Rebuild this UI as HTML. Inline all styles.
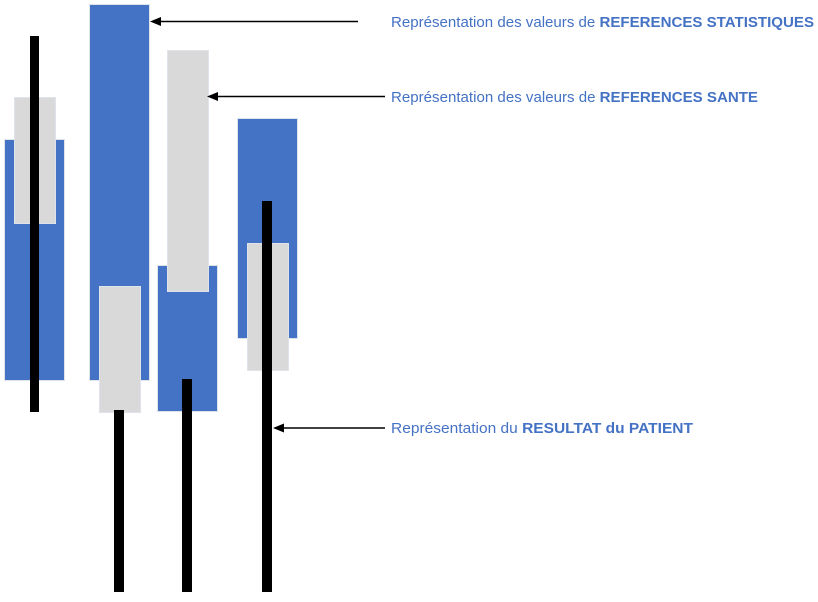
<!DOCTYPE html>
<html><head><meta charset="utf-8"><style>html,body{margin:0;padding:0;background:#fff;}svg{display:block}</style></head>
<body>
<svg width="818" height="602" viewBox="0 0 818 602" xmlns="http://www.w3.org/2000/svg">
<g stroke="#dfe3ea" stroke-width="1">
<rect x="4.5" y="139.5" width="60" height="241" fill="#4472C4"/>
<rect x="14.5" y="97.5" width="41" height="126" fill="#D9D9D9"/>
<rect x="89.5" y="4.5" width="60" height="376" fill="#4472C4"/>
<rect x="99.5" y="286.5" width="41" height="126" fill="#D9D9D9"/>
<rect x="157.5" y="265.5" width="60" height="146" fill="#4472C4"/>
<rect x="167.5" y="50.5" width="41" height="241" fill="#D9D9D9"/>
<rect x="237.5" y="118.5" width="60" height="220" fill="#4472C4"/>
<rect x="247.5" y="243.5" width="41" height="127" fill="#D9D9D9"/>
</g>
<g fill="#000">
<rect x="30" y="36" width="9" height="376"/>
<rect x="114" y="410" width="10" height="182"/>
<rect x="182" y="379" width="10" height="213"/>
<rect x="262" y="201" width="10" height="391"/>
</g>
<g stroke="#000" stroke-width="1.5">
<line x1="358" y1="21.5" x2="158" y2="21.5"/>
<line x1="385" y1="96.5" x2="215" y2="96.5"/>
<line x1="385" y1="428" x2="280" y2="428"/>
</g>
<g fill="#000">
<polygon points="150,21.5 161,17 161,26"/>
<polygon points="207,96.5 218,92 218,101"/>
<polygon points="273,428 284,423.5 284,432.5"/>
</g>
<g fill="#4472C4" font-family="Liberation Sans, sans-serif" font-size="14.5">
<text x="391" y="27" textLength="423" lengthAdjust="spacingAndGlyphs">Représentation des valeurs de <tspan font-weight="bold">REFERENCES STATISTIQUES</tspan></text>
<text x="391" y="102" textLength="367" lengthAdjust="spacingAndGlyphs">Représentation des valeurs de <tspan font-weight="bold">REFERENCES SANTE</tspan></text>
<text x="391" y="433" textLength="302" lengthAdjust="spacingAndGlyphs">Représentation du <tspan font-weight="bold">RESULTAT du PATIENT</tspan></text>
</g>
</svg>
</body></html>
